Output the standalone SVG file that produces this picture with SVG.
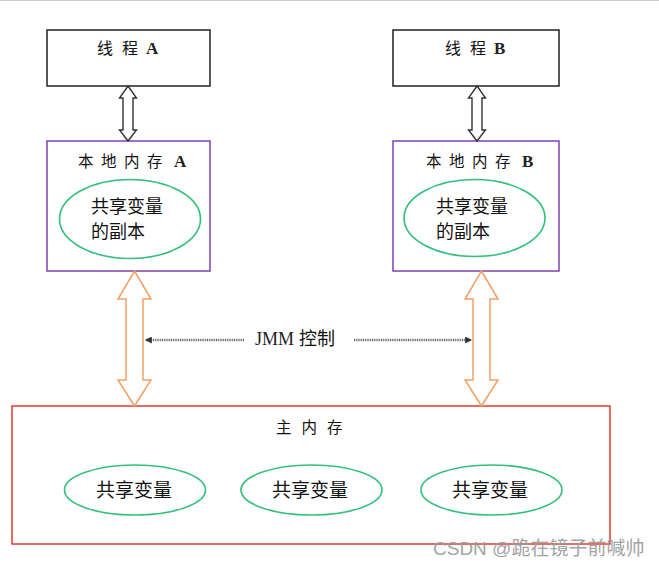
<svg xmlns="http://www.w3.org/2000/svg" width="659" height="564" viewBox="0 0 659 564">
<defs>
<style>
.cn{font-family:"Noto Sans CJK SC","Noto Sans",sans-serif;fill:#111;}
.lat{font-family:"Liberation Serif",serif;font-weight:bold;fill:#222;}
.thread{fill:#fff;stroke:#222;stroke-width:1.5;}
.local{fill:#fff;stroke:#8040b0;stroke-width:1.5;}
.main{fill:#fff;stroke:#e03c31;stroke-width:1.5;}
.var{fill:#fff;stroke:#33c07a;stroke-width:1.6;}
.barr{fill:#fff;stroke:#333;stroke-width:1.4;}
.oarr{fill:#fff;stroke:#f4a064;stroke-width:1.5;}
.dot{stroke:#666;stroke-width:2.6;stroke-dasharray:1 0.8;fill:none;}
</style>
<marker id="ah" viewBox="0 0 6 6" refX="5" refY="3" markerWidth="7" markerHeight="7" orient="auto-start-reverse" markerUnits="userSpaceOnUse">
<path d="M0,0 L6,3 L0,6 Z" fill="#333"/>
</marker>
</defs>
<rect width="659" height="564" fill="#fff"/>
<line x1="0" y1="0.5" x2="659" y2="0.5" stroke="#ccc" stroke-width="1"/>

<g id="threadA">
<rect class="thread" x="47" y="30" width="163" height="56"/>
<text class="cn" x="97" y="54" font-size="16" letter-spacing="9">线程</text><text class="lat" x="146" y="54" font-size="17">A</text>
</g>
<g id="threadB">
<rect class="thread" x="393" y="30" width="166" height="56"/>
<text class="cn" x="445" y="54" font-size="16" letter-spacing="9">线程</text><text class="lat" x="494" y="54" font-size="17">B</text>
</g>

<g id="localA">
<rect class="local" x="47" y="141" width="163" height="130"/>
<text class="cn" x="78" y="167" font-size="15.5" letter-spacing="7.5">本地内存</text><text class="lat" x="174" y="167" font-size="17">A</text>
<ellipse class="var" cx="130" cy="219" rx="70.5" ry="39.5"/>
<text class="cn" x="91" y="213" font-size="18">共享变量</text>
<text class="cn" x="91" y="238" font-size="18">的副本</text>
</g>
<g id="localB">
<rect class="local" x="393" y="141" width="166" height="130"/>
<text class="cn" x="426" y="167" font-size="15.5" letter-spacing="7.5">本地内存</text><text class="lat" x="522" y="167" font-size="17">B</text>
<ellipse class="var" cx="474.5" cy="218" rx="70.5" ry="38.5"/>
<text class="cn" x="436" y="213" font-size="18">共享变量</text>
<text class="cn" x="436" y="238" font-size="18">的副本</text>
</g>

<g id="mainMem">
<rect class="main" x="12" y="406" width="598" height="138"/>
<text class="cn" x="276" y="433" font-size="15.5" letter-spacing="10">主内存</text>
<ellipse class="var" cx="135" cy="490" rx="70.5" ry="25"/>
<ellipse class="var" cx="311.5" cy="490" rx="70.5" ry="25"/>
<ellipse class="var" cx="491.5" cy="490" rx="70.5" ry="25"/>
<text class="cn" x="96" y="497" font-size="19">共享变量</text>
<text class="cn" x="272" y="497" font-size="19">共享变量</text>
<text class="cn" x="452" y="497" font-size="19">共享变量</text>
</g>

<g id="connectors">
<path class="barr" d="M128,86 L136.5,98 L133,98 L133,130 L136.5,130 L128,141 L119.5,130 L123,130 L123,98 L119.5,98 Z"/>
<path class="barr" d="M477,86 L485.5,98 L482,98 L482,130 L485.5,130 L477,141 L468.5,130 L472,130 L472,98 L468.5,98 Z"/>
<path class="oarr" d="M134.5,271 L151,299 L143,299 L143,380 L151,380 L134.5,406 L118,380 L126,380 L126,299 L118,299 Z"/>
<path class="oarr" d="M481.5,271 L498,299 L490,299 L490,380 L498,380 L481.5,406 L465,380 L473,380 L473,299 L465,299 Z"/>
<line class="dot" x1="244" y1="340" x2="146" y2="340" marker-end="url(#ah)"/>
<line class="dot" x1="354" y1="340" x2="471" y2="340" marker-end="url(#ah)"/>
</g>

<g id="jmmLabel">
<text x="255" y="345" font-size="18"><tspan font-family="Liberation Serif,serif" fill="#222">JMM</tspan><tspan class="cn" dx="5">控制</tspan></text>
</g>

<text x="433" y="555" font-family="Liberation Sans,'Noto Sans CJK SC',sans-serif" font-size="19" fill="#9a9a9a" opacity="0.9">CSDN @跪在镜子前喊帅</text>
</svg>
